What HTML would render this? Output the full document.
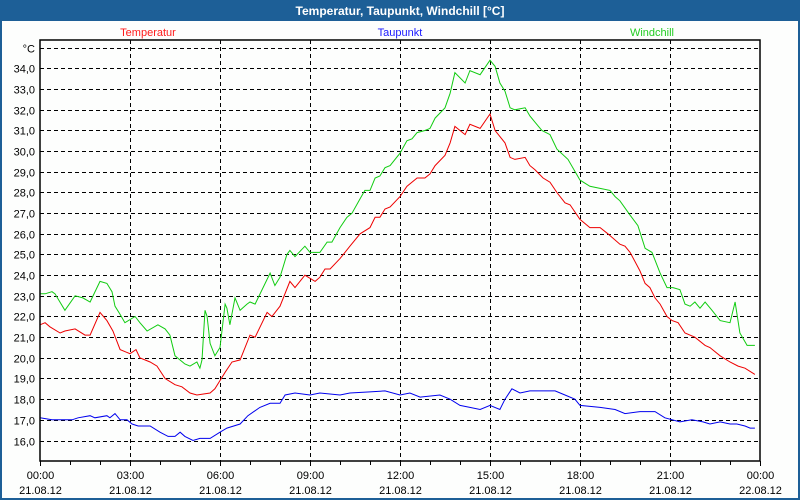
<!DOCTYPE html>
<html><head><meta charset="utf-8">
<style>
html,body{margin:0;padding:0;background:#1d5f97;}
#wrap{position:relative;width:800px;height:500px;overflow:hidden;background:#1d5f97;font-family:"Liberation Sans",sans-serif;}
svg{position:absolute;left:0;top:0;}
</style></head>
<body>
<div id="wrap">
<svg id="chart" width="800" height="500">
  <rect x="2" y="21" width="796" height="477" fill="#fdfefd"/>
  <text x="400" y="15" text-anchor="middle" font-size="12" font-weight="bold" fill="#ffffff">Temperatur, Taupunkt, Windchill [°C]</text>
  <text x="148" y="36" text-anchor="middle" font-size="11" fill="#ff1a1a">Temperatur</text>
  <text x="400" y="36" text-anchor="middle" font-size="11" fill="#1a1aff">Taupunkt</text>
  <text x="652" y="36" text-anchor="middle" font-size="11" fill="#22cc22">Windchill</text>
  <g id="grid"></g>
  <g id="series"></g>
  <rect x="40" y="40" width="720" height="421" fill="none" stroke="#000" stroke-width="1.5"/>
  <g id="axes"></g>
</svg>
</div>
<script>
const yTicks = [16,17,18,19,20,21,22,23,24,25,26,27,28,29,30,31,32,33,34];
const xTickHours = [0,3,6,9,12,15,18,21,24];
const xTimeLabels = ["00:00","03:00","06:00","09:00","12:00","15:00","18:00","21:00","00:00"];
const xDateLabels = ["21.08.12","21.08.12","21.08.12","21.08.12","21.08.12","21.08.12","21.08.12","21.08.12","22.08.12"];

const tempTimes = [0,0.17,0.33,0.67,0.83,1.17,1.5,1.67,2.0,2.23,2.43,2.67,3.0,3.2,3.33,3.67,3.9,4.17,4.5,4.73,5.0,5.23,5.67,5.83,6.17,6.4,6.67,7.0,7.17,7.57,7.73,8.0,8.33,8.5,8.83,9.17,9.33,9.5,9.67,10,10.33,10.67,11,11.17,11.33,11.5,11.67,12,12.23,12.57,12.83,13,13.17,13.5,13.67,13.83,14.17,14.33,14.67,15,15.17,15.5,15.67,15.83,16.17,16.33,16.5,16.77,17,17.23,17.5,17.67,18,18.33,18.67,18.93,19.33,19.5,19.67,20,20.17,20.33,20.5,20.67,20.9,21.07,21.27,21.5,21.83,22.17,22.33,22.67,23,23.27,23.5,23.83];
const tempValues = [21.6,21.7,21.5,21.2,21.3,21.4,21.1,21.1,22.2,21.8,21.3,20.4,20.2,20.4,20.0,19.8,19.6,19.0,18.7,18.6,18.3,18.2,18.3,18.5,19.3,19.8,19.9,21.1,21.0,22.2,22.0,22.5,23.7,23.4,24.0,23.7,23.9,24.3,24.3,24.8,25.4,26.0,26.3,26.8,26.8,27.2,27.3,27.8,28.3,28.7,28.7,28.9,29.3,29.8,30.4,31.2,30.8,31.3,31.1,31.8,31.0,30.4,29.7,29.6,29.7,29.3,29.1,28.7,28.5,28.0,27.5,27.4,26.7,26.3,26.3,26.0,25.5,25.4,25.1,24.2,23.6,23.4,22.9,22.6,22.0,21.8,21.7,21.2,21.0,20.6,20.5,20.1,19.8,19.6,19.5,19.2];

const windTimes = [0,0.17,0.4,0.5,0.83,1.17,1.43,1.67,2.0,2.23,2.4,2.5,2.67,2.83,3.17,3.33,3.57,3.93,4.17,4.33,4.5,4.83,5.0,5.23,5.33,5.4,5.5,5.57,5.67,5.83,6.0,6.17,6.23,6.33,6.5,6.67,6.9,7.0,7.17,7.67,7.83,8.0,8.23,8.33,8.5,8.83,9.0,9.17,9.33,9.57,9.73,10,10.23,10.4,10.67,10.83,11,11.17,11.33,11.5,11.67,12,12.23,12.4,12.57,12.83,13,13.17,13.5,13.67,13.83,14.17,14.33,14.67,15,15.17,15.33,15.5,15.67,15.83,16.17,16.33,16.5,16.73,17,17.23,17.6,18,18.33,18.67,19,19.17,19.33,19.67,19.93,20.17,20.4,20.67,20.9,21.1,21.33,21.5,21.67,21.83,22.0,22.17,22.4,22.67,23,23.17,23.33,23.57,23.83];
const windValues = [23.1,23.1,23.2,23.1,22.3,23.0,22.9,22.7,23.7,23.6,23.2,22.5,22.1,21.7,22.0,21.7,21.3,21.6,21.4,21.1,20.1,19.7,19.6,19.8,19.5,19.9,22.3,22.0,20.7,20.1,20.5,22.6,22.4,21.6,22.9,22.3,22.6,22.7,22.6,24.1,23.5,23.9,25.0,25.2,24.9,25.4,25.1,25.1,25.1,25.6,25.6,26.3,26.8,27.0,27.7,28.1,28.1,28.7,28.8,29.2,29.3,29.9,30.5,30.6,30.9,31.0,31.1,31.6,32.1,32.8,33.8,33.3,33.9,33.7,34.4,34.1,33.3,32.9,32.1,32.0,32.1,31.7,31.4,31.0,30.8,30.1,29.6,28.6,28.3,28.2,28.1,27.8,27.6,26.9,26.4,25.3,25.1,24.1,23.4,23.4,23.3,22.6,22.5,22.7,22.4,22.7,22.3,21.8,21.7,22.7,21.2,20.6,20.6];

const dewTimes = [0,0.4,0.9,1.07,1.27,1.67,1.83,2.23,2.33,2.5,2.67,2.9,3.07,3.27,3.67,4.0,4.27,4.5,4.67,4.83,5.1,5.33,5.67,6.0,6.23,6.67,6.93,7.33,7.67,8.0,8.17,8.5,9.0,9.33,10,10.33,11,11.5,12,12.33,12.67,13.33,13.67,14.0,14.33,14.67,15,15.33,15.5,15.73,16,16.33,16.67,17.17,17.5,17.83,18,18.67,19.17,19.5,20,20.5,20.83,21.33,21.73,22.1,22.33,22.67,23,23.23,23.5,23.67,23.83];
const dewValues = [17.1,17.0,17.0,17.0,17.1,17.2,17.1,17.2,17.1,17.3,17.0,17.0,16.8,16.7,16.7,16.4,16.2,16.2,16.4,16.2,16.0,16.1,16.1,16.4,16.6,16.8,17.2,17.6,17.8,17.8,18.2,18.3,18.2,18.3,18.2,18.3,18.35,18.4,18.2,18.3,18.1,18.2,18.0,17.7,17.6,17.5,17.7,17.5,18.0,18.5,18.3,18.4,18.4,18.4,18.2,18.0,17.7,17.6,17.5,17.3,17.4,17.4,17.1,16.9,17.0,16.9,16.8,16.9,16.8,16.8,16.7,16.6,16.6];

const X0=40, X1=760, YBOT=440.5, PXU=20.667;
function xScale(h){return X0 + h*(X1-X0)/24;}
function yScale(v){return YBOT - (v-16)*PXU;}
const NS="http://www.w3.org/2000/svg";
const grid=document.getElementById('grid'), axes=document.getElementById('axes'), series=document.getElementById('series');

function line(parent,x1,y1,x2,y2,dash,name){
  const l=document.createElementNS(NS,'line');
  l.setAttribute('x1',x1);l.setAttribute('y1',y1);l.setAttribute('x2',x2);l.setAttribute('y2',y2);
  l.setAttribute('stroke','#000');l.setAttribute('stroke-width','1');
  if(dash) l.setAttribute('stroke-dasharray','4,3');
  
  
  parent.appendChild(l); return l;
}
function text(parent,x,y,s,anchor,name){
  const t=document.createElementNS(NS,'text');
  t.setAttribute('x',x);t.setAttribute('y',y);t.setAttribute('text-anchor',anchor);
  t.setAttribute('font-size','11');t.setAttribute('fill','#000');
  t.textContent=s;
  
  
  parent.appendChild(t);
}
// horizontal gridlines
yTicks.forEach(v=>{
  const y=Math.round(yScale(v))+0.5;
  line(grid,X0,y,X1,y,true,'y-gridline');
  text(axes,35,y+4,v.toFixed(1).replace('.',','),'end','y-tick-label');
});
// °C line
const yc=Math.round(yScale(35))+0.5;
line(grid,X0,yc,X1,yc,true,'y-gridline-top');
text(axes,35,yc+4,'°C','end','y-unit-label');
// vertical gridlines + labels
xTickHours.forEach((h,i)=>{
  const x=Math.round(xScale(h))+0.5;
  if(i>0 && i<xTickHours.length-1) line(grid,x,40,x,461,true,'x-gridline');
  line(axes,x,461,x,466,false,'x-major-tick');
  text(axes,x,479,xTimeLabels[i],'middle','x-time-label');
  text(axes,x,494,xDateLabels[i],'middle','x-date-label');
});
for(let h=1;h<24;h++){ if(h%3){const x=Math.round(xScale(h))+0.5; line(axes,x,461,x,465,false,'x-minor-tick');} }

function drawSeries(times,vals,color,name){
  const p=document.createElementNS(NS,'polyline');
  p.setAttribute('points',times.map((t,i)=>xScale(t).toFixed(1)+','+yScale(vals[i]).toFixed(1)).join(' '));
  p.setAttribute('fill','none');p.setAttribute('stroke',color);p.setAttribute('stroke-width','1');
  
  
  series.appendChild(p);
}
drawSeries(windTimes,windValues,'#11cc11','windchill-line');
drawSeries(tempTimes,tempValues,'#ee0000','temperatur-line');
drawSeries(dewTimes,dewValues,'#0000ee','taupunkt-line');
</script>
</body></html>
